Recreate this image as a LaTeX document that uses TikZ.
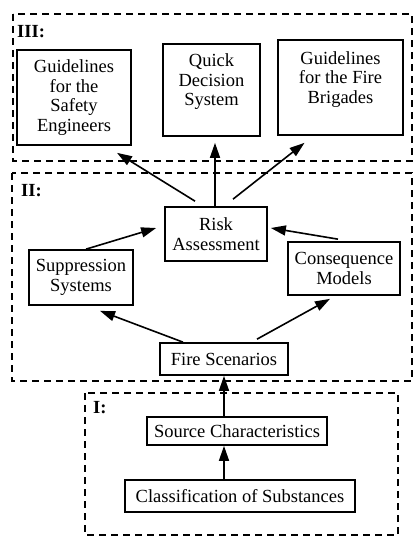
\documentclass[tikz,border=0pt]{standalone}
\usepackage{fontspec}
\setmainfont{Liberation Serif}
\usetikzlibrary{arrows.meta}
\begin{document}
\begin{tikzpicture}[x=1pt,y=-1pt,
  box/.style={draw,line width=1.7pt,align=center,inner sep=0pt,font=\fontsize{18.5}{19.5}\selectfont},
  txt/.style={align=center,inner sep=0pt,font=\fontsize{18.5}{19.5}\selectfont},
  arr/.style={line width=1.6pt,-{Triangle[length=15pt,width=10pt]}},
  region/.style={draw,line width=1.2pt,dash pattern=on 7pt off 5pt},
  lab/.style={anchor=north west,inner sep=0pt,font=\fontsize{18.5}{19.5}\selectfont\bfseries}]
\useasboundingbox (0,0) rectangle (415,538);

% regions
\draw[region] (13,14) rectangle (412,161);
\node[lab] (l3) at (17,25) {III:};
\draw[region] (12,173) rectangle (412,381);
\node[lab] (l2) at (21,184) {II:};
\draw[region] (85,393) rectangle (398,535);
\node[lab] (l1) at (93,401) {I:};

% level III
\node[box,minimum width=114pt,minimum height=95pt] (se) at (74,97.5) {Guidelines\\for the\\Safety\\Engineers};
\node[box,minimum width=97pt,minimum height=92pt] (qds) at (211.5,90) {};
\node[txt] (qdst) at ([yshift=8pt]qds.center) {Quick\\Decision\\System};
\node[box,minimum width=125pt,minimum height=95pt] (fb) at (340.5,87.5) {};
\node[txt] (fbt) at ([yshift=8pt]fb.center) {Guidelines\\for the Fire\\Brigades};

% level II
\node[box,minimum width=102pt,minimum height=54pt] (ra) at (216,234) {Risk\\Assessment};
\node[box,minimum width=104pt,minimum height=55pt] (ss) at (81,277.5) {Suppression\\Systems};
\node[box,minimum width=112pt,minimum height=53pt] (cm) at (344,268.5) {Consequence\\Models};
\node[box,minimum width=128pt,minimum height=32pt] (fs) at (224,359) {Fire Scenarios};

% level I
\node[box,minimum width=180pt,minimum height=28pt] (sc) at (237,431) {Source Characteristics};
\node[box,minimum width=230pt,minimum height=32pt] (cs) at (240,496) {Classification of Substances};

% arrows
\draw[arr] ([xshift=-21pt,yshift=5pt]ra.north) -- ([xshift=43pt,yshift=-7pt]se.south);
\draw[arr] ([xshift=-1pt]ra.north) -- ([xshift=3.5pt,yshift=-6pt]qds.south);
\draw[arr] ([xshift=17pt,yshift=7pt]ra.north) -- ([xshift=-36pt,yshift=-7pt]fb.south);
\draw[arr] ([xshift=5pt]ss.north) -- ([xshift=-8pt,yshift=6pt]ra.west);
\draw[arr] ([xshift=-6pt,yshift=2pt]cm.north) -- ([xshift=3pt,yshift=6pt]ra.east);
\draw[arr] ([xshift=-41pt]fs.north) -- ([xshift=19pt,yshift=-5pt]ss.south);
\draw[arr] ([xshift=33pt,yshift=3pt]fs.north) -- ([xshift=-14pt,yshift=-3pt]cm.south);
\draw[arr] (sc.north -| fs.south) -- (fs.south);
\draw[arr] (cs.north -| fs.south) -- (sc.south -| fs.south);
\end{tikzpicture}
\end{document}
